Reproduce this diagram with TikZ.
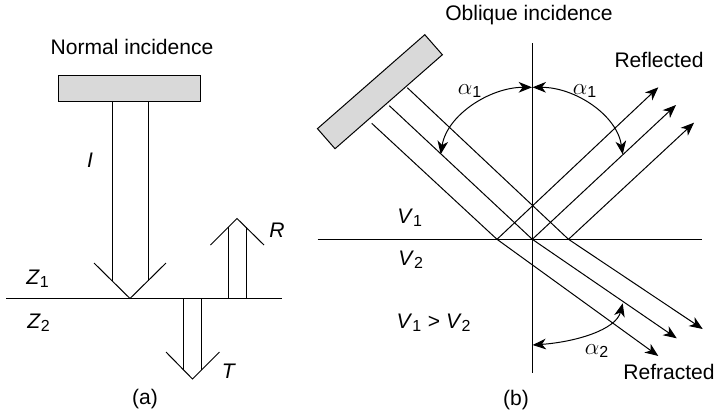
\documentclass[tikz,border=0pt]{standalone}
\usepackage{fontspec}
\setmainfont{Liberation Sans}
\DeclareMathSizes{15.8}{17.28}{12}{10}
\usetikzlibrary{arrows.meta}

\begin{document}
\begin{tikzpicture}[x=0.75pt, y=-0.75pt, line width=0.75pt]
    \tikzstyle{plate} = [draw, fill=black!15, inner sep=0pt, minimum width=107pt, minimum height=20pt]
    \tikzstyle{lbl} = [inner sep=0pt, font=\fontsize{15.8}{18}\selectfont]
    \tikzstyle{ray} = [-{Stealth[length=10pt, width=8pt, inset=3pt]}]
    \tikzstyle{sweep} = [{Stealth[length=10pt, width=8pt, inset=3pt]}-{Stealth[length=10pt, width=8pt, inset=3pt]}]

    \useasboundingbox (0,0) rectangle (717,415);

    % (a)
    \node (srcA) [plate] at (129.5,88.5) {};
    \node (normal) [lbl] at (132,47) {Normal incidence};
    \node (capA) [lbl] at (145,399) {(a)};
    \node (labI) [lbl] at (90,160) {\textit{I}};
    \node (labR) [lbl] at (277,230) {\textit{R}};
    \node (labT) [lbl] at (229,371) {\textit{T}};
    \node (labZa) [lbl] at (38,279) {\textit{Z}\textsubscript{1}};
    \node (labZb) [lbl] at (39,323) {\textit{Z}\textsubscript{2}};

    \coordinate (ml) at (6,298.5);
    \coordinate (mr) at (282,298.5);
    \draw (ml) -- (mr);

    \coordinate (iTip) at (130,298.5);
    \draw (94,263) -- (iTip) -- (166,263);
    \draw (srcA.south -| 112,0) -- (112,280.5);
    \draw (srcA.south -| 148,0) -- (148,280.5);

    \coordinate (rTip) at (237,218.5);
    \draw (210.5,245) -- (rTip) -- (264,245);
    \draw (228.5,298.5) -- (228.5,227);
    \draw (246,298.5) -- (246,227);

    \coordinate (tTip) at (192.5,379);
    \draw (166,352) -- (tTip) -- (219.5,352);
    \draw (183.5,298.5) -- (183.5,370);
    \draw (201.5,298.5) -- (201.5,370);

    % (b)
    \node (srcB) [plate, rotate=41.2] at (379.9,91.7) {};
    \node (oblique) [lbl] at (529,15) {Oblique incidence};
    \node (capB) [lbl] at (516,400) {(b)};
    \node (reflected) [lbl] at (659,60) {Reflected};
    \node (refracted) [lbl] at (669,372) {Refracted};
    \node (labVa) [lbl] at (410,218) {\textit{V}\textsubscript{1}};
    \node (labVb) [lbl] at (411,260) {\textit{V}\textsubscript{2}};
    \node (labVc) [lbl] at (434,323) {\textit{V}\textsubscript{1} > \textit{V}\textsubscript{2}};
    \node (labAa) [lbl] at (470,91) {$\alpha$\textsubscript{1}};
    \node (labAb) [lbl] at (585,91) {$\alpha$\textsubscript{1}};
    \node (labAc) [lbl] at (597,351) {$\alpha$\textsubscript{2}};

    \coordinate (hl) at (317.7,239.3);
    \coordinate (hr) at (702.3,239.3);
    \coordinate (vt) at (532.3,43);
    \coordinate (vb) at (532.3,372.7);
    \draw (hl) -- (hr);
    \draw (vt) -- (vb);

    \coordinate (hitL) at (497,239.3);
    \coordinate (hitM) at (532.3,239.3);
    \coordinate (hitR) at (568.5,239.3);

    \draw (407.3,87.7) -- (hitR);
    \draw (389.3,105.7) -- (hitM);
    \draw (371.7,123.3) -- (hitL);

    \draw [ray] (hitL) -- (658.3,87.3);
    \draw [ray] (hitM) -- (676,105);
    \draw [ray] (hitR) -- (694,122.7);

    \draw [ray] (hitL) -- (658.3,356);
    \draw [ray] (hitM) -- (676.7,338.3);
    \draw [ray] (hitR) -- (702.7,329);

    \draw [sweep] (532,87.3) .. controls (490,87.3) and (447,115) .. (440.7,154.3);
    \draw [sweep] (532.6,87.3) .. controls (575,87.3) and (617,115) .. (622.7,154.3);
    \draw [sweep] (532.6,345) .. controls (575,342) and (616,330) .. (622.7,303.3);

\end{tikzpicture}
\end{document}
